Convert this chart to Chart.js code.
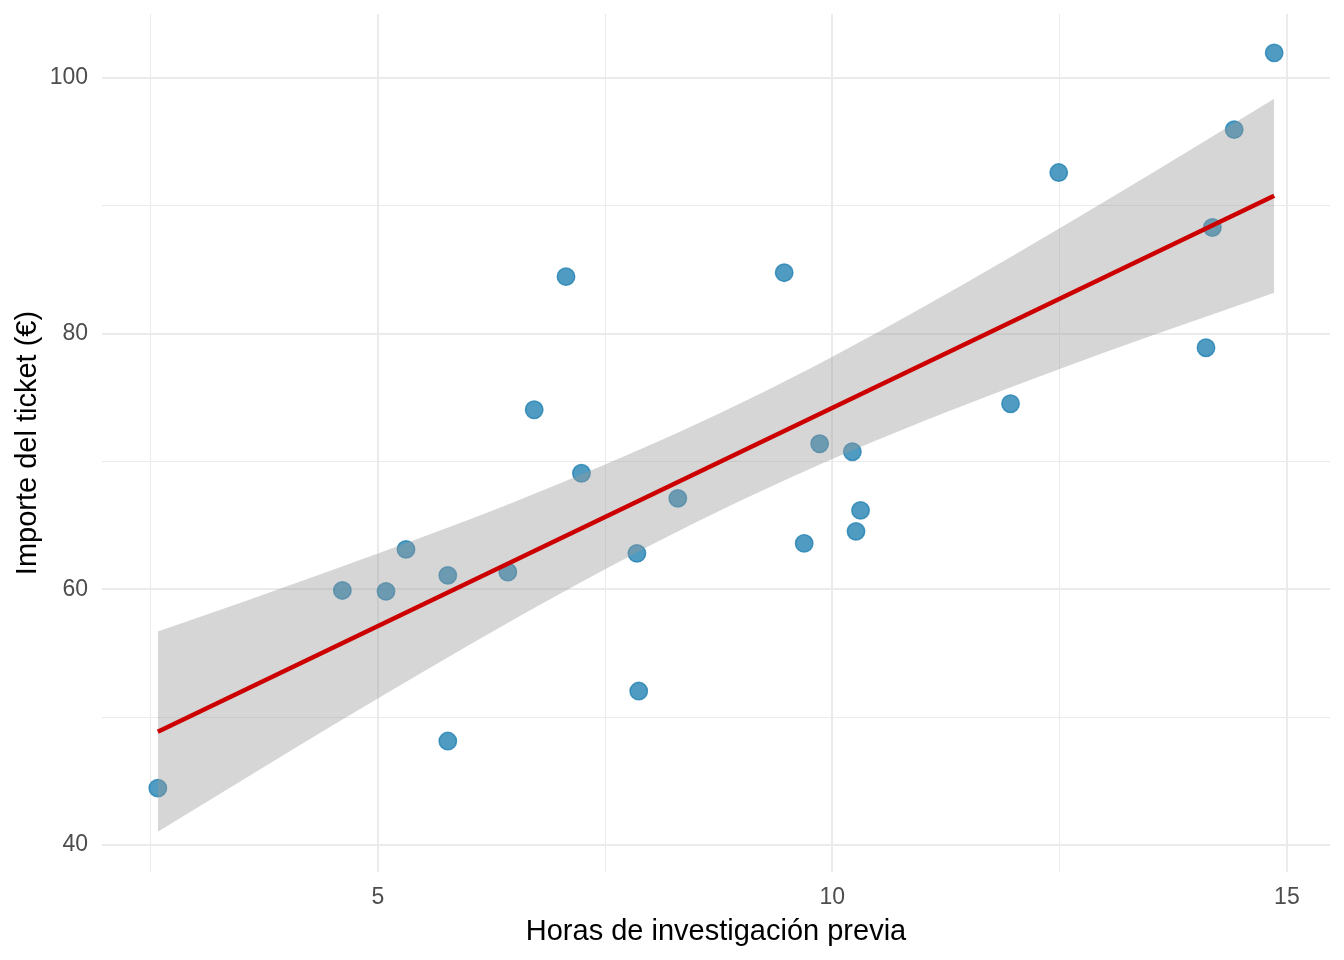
<!DOCTYPE html>
<html>
<head>
<meta charset="utf-8">
<script src="https://cdn.jsdelivr.net/npm/chart.js@4.4.1/dist/chart.umd.min.js"></script>
<style>
  html, body { margin: 0; padding: 0; background: #fff; }
  #wrap { width: 1344px; height: 960px; position: relative; }
</style>
</head>
<body>
<div id="wrap"><canvas id="scatterChart"></canvas></div>
<script>
const hours  = [2.58, 4.61, 5.09, 5.31, 5.77, 5.77, 6.43, 6.72, 7.07, 7.24, 7.85, 7.87, 8.30,
                9.47, 9.69, 9.86, 10.22, 10.26, 10.31, 11.96, 12.49, 14.11, 14.18, 14.42, 14.86];
const ticket = [44.46, 59.92, 59.85, 63.13, 61.10, 48.14, 61.36, 74.05, 84.46, 69.08, 62.82, 52.05, 67.12,
                84.77, 63.60, 71.39, 70.77, 64.54, 66.18, 74.52, 92.60, 78.90, 88.30, 95.96, 101.96];

// fitted line (end points) and confidence band
const fitX = [2.58, 14.86];
const fitY = [48.87, 90.79];
const bandX     = [2.58, 3.5, 4.5, 5.5, 6.5, 7.5, 8.5, 9.5, 10.5, 11.5, 12.5, 13.5, 14.86];
const bandUpper = [56.70, 58.98, 61.51, 64.12, 66.84, 69.76, 72.91, 76.36, 80.12, 84.10, 88.25, 92.49, 98.37];
const bandLower = [41.04, 45.04, 49.35, 53.56, 57.66, 61.58, 65.25, 68.62, 71.70, 74.54, 77.23, 79.81, 83.21];

// axis breaks
const xTicks = [5, 10, 15];
const xMinor = [2.5, 7.5, 12.5];
const yTicks = [40, 60, 80, 100];
const yMinor = [50, 70, 90];

const FONT = "'Liberation Sans', Arial, sans-serif";

function pairs(xs, ys) {
  return xs.map((x, i) => ({ x: x, y: ys[i] }));
}

function setTicks(major, minor) {
  return function(scale) {
    scale.ticks = major.concat(minor).sort((a, b) => a - b).map(v => ({ value: v }));
  };
}

const ctx = document.getElementById('scatterChart').getContext('2d');
new Chart(ctx, {
  type: 'line',
  data: {
    datasets: [
      {
        // red fit line, on top
        data: pairs(fitX, fitY),
        borderColor: '#CC0000',
        borderWidth: 4.6,
        pointRadius: 0,
        fill: false
      },
      {
        data: pairs(bandX, bandUpper),
        borderWidth: 0,
        borderColor: 'rgba(0,0,0,0)',
        pointRadius: 0,
        cubicInterpolationMode: 'monotone',
        fill: false
      },
      {
        data: pairs(bandX, bandLower),
        borderWidth: 0,
        borderColor: 'rgba(0,0,0,0)',
        pointRadius: 0,
        cubicInterpolationMode: 'monotone',
        backgroundColor: 'rgba(153,153,153,0.4)',
        fill: 1
      },
      {
        // points, drawn first (under the band)
        data: pairs(hours, ticket),
        showLine: false,
        pointRadius: 8.7,
        pointBackgroundColor: 'rgba(35,130,178,0.8)',
        pointBorderColor: 'rgba(35,130,178,0.8)',
        pointBorderWidth: 1.5
      }
    ]
  },
  options: {
    responsive: true,
    maintainAspectRatio: false,
    animation: false,
    devicePixelRatio: 1,
    layout: { padding: { left: 0, right: 14, top: 14, bottom: 0 } },
    plugins: {
      legend: { display: false },
      tooltip: { enabled: false }
    },
    scales: {
      x: {
        type: 'linear',
        min: 1.966,
        max: 15.474,
        afterBuildTicks: setTicks(xTicks, xMinor),
        afterFit: function(scale) {
          scale.height = 88;
          scale.paddingLeft = 0;
          scale.paddingRight = 0;
        },
        border: { display: false },
        grid: {
          drawTicks: false,
          color: '#EBEBEB',
          lineWidth: c => xTicks.includes(c.tick.value) ? 2 : 1
        },
        ticks: {
          autoSkip: false,
          maxRotation: 0,
          padding: 12,
          color: '#4D4D4D',
          font: { family: FONT, size: 23 },
          callback: v => xTicks.includes(v) ? String(v) : ''
        },
        title: {
          display: true,
          text: 'Horas de investigación previa',
          color: '#000',
          font: { family: FONT, size: 29 },
          padding: { top: 0, bottom: 11 }
        }
      },
      y: {
        type: 'linear',
        min: 37.9,
        max: 105.0,
        afterBuildTicks: setTicks(yTicks, yMinor),
        afterFit: function(scale) {
          scale.width = 102;
          scale.paddingTop = 0;
          scale.paddingBottom = 0;
        },
        border: { display: false },
        grid: {
          drawTicks: false,
          color: '#EBEBEB',
          lineWidth: c => yTicks.includes(c.tick.value) ? 2 : 1
        },
        ticks: {
          autoSkip: false,
          padding: 14,
          color: '#4D4D4D',
          font: { family: FONT, size: 23 },
          callback: v => yTicks.includes(v) ? String(v) : ''
        },
        title: {
          display: true,
          text: 'Importe del ticket (€)',
          color: '#000',
          font: { family: FONT, size: 29 },
          padding: { top: 11, bottom: 0 }
        }
      }
    }
  }
});
</script>
</body>
</html>
